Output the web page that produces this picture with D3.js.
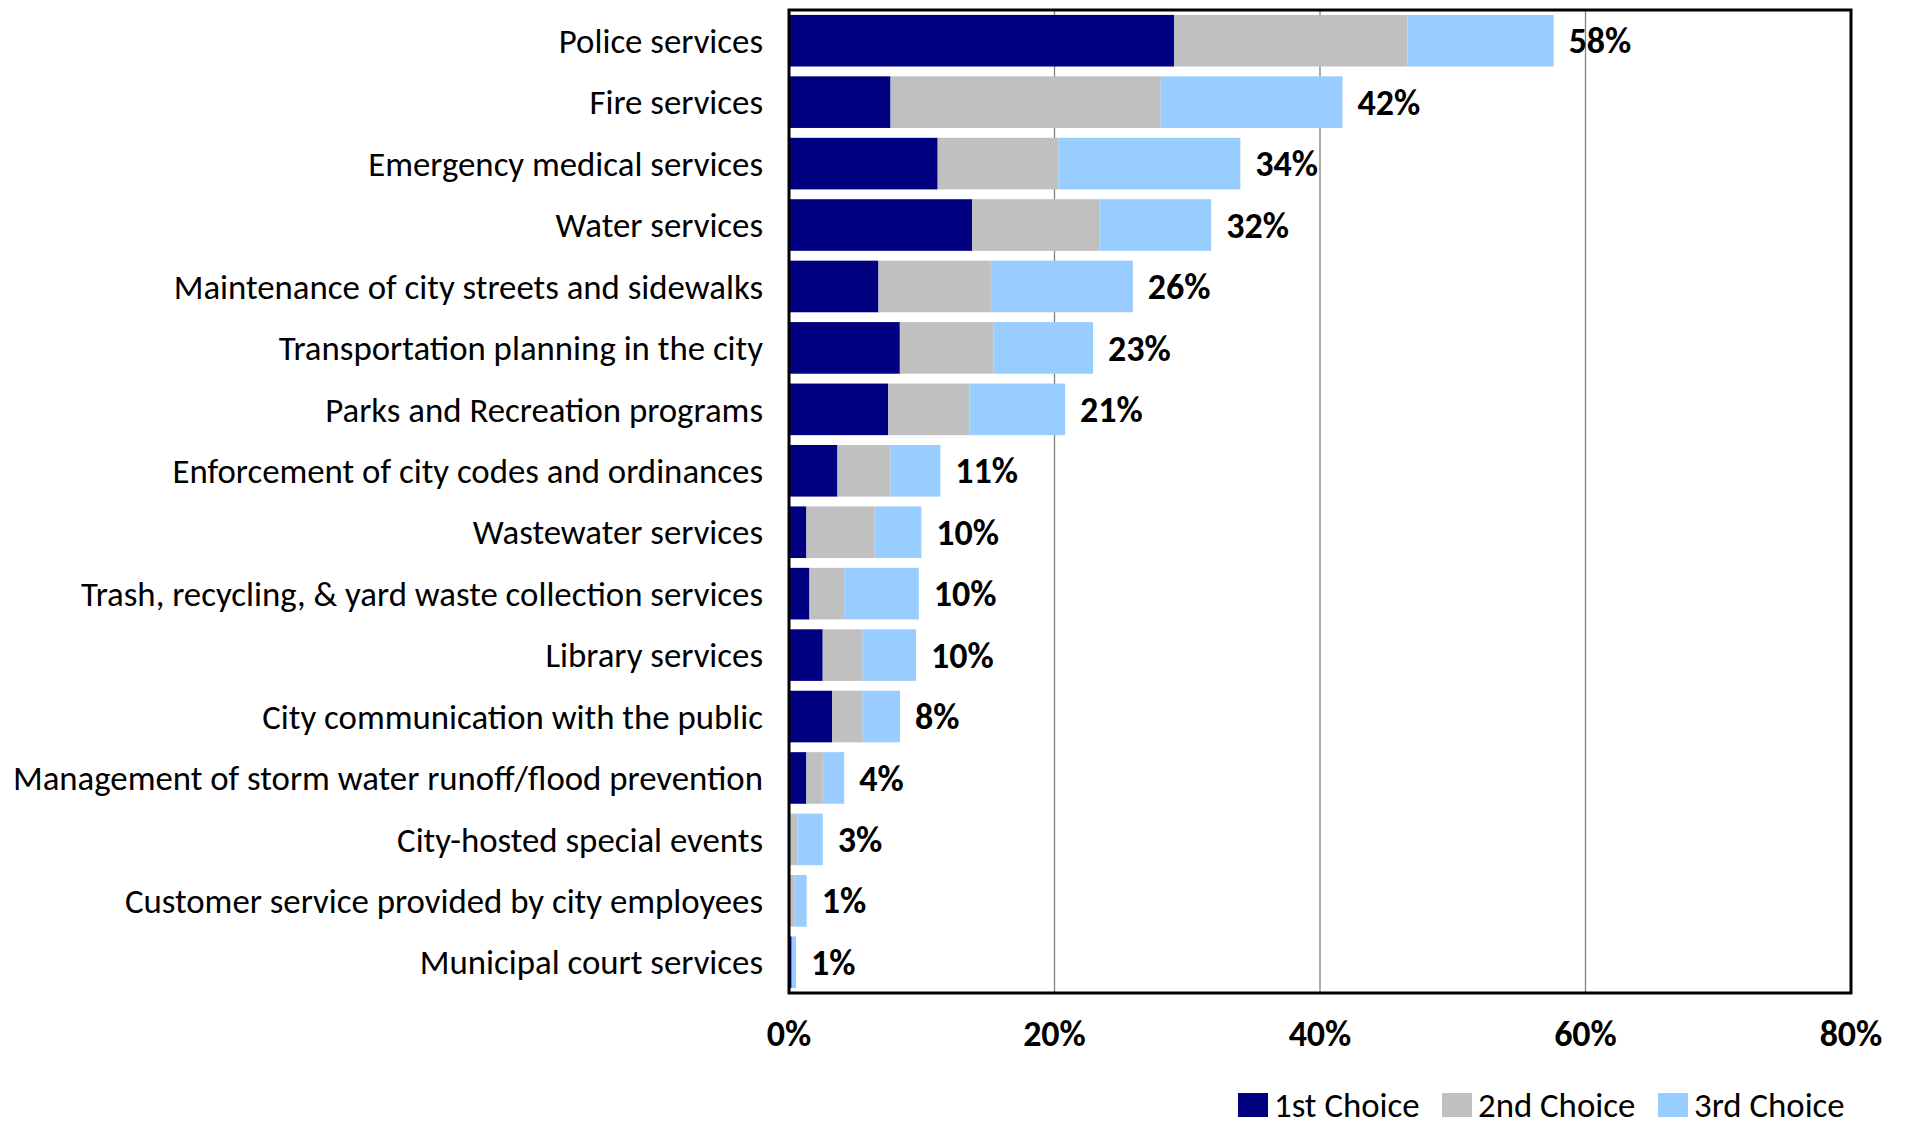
<!DOCTYPE html>
<html>
<head>
<meta charset="utf-8">
<script src="https://cdn.jsdelivr.net/npm/d3@7"></script>
<style>
  html, body { margin: 0; padding: 0; background: #fff; }
  svg { display: block; }
  text { font-family: Carlito, Calibri, "Open Sans", sans-serif; fill: #000; }
</style>
</head>
<body>
<svg id="chart" width="1908" height="1129"></svg>
<script>
// Most important city services (share of respondents choosing each as 1st, 2nd, 3rd choice)
const categories = [
  "Police services",
  "Fire services",
  "Emergency medical services",
  "Water services",
  "Maintenance of city streets and sidewalks",
  "Transportation planning in the city",
  "Parks and Recreation programs",
  "Enforcement of city codes and ordinances",
  "Wastewater services",
  "Trash, recycling, & yard waste collection services",
  "Library services",
  "City communication with the public",
  "Management of storm water runoff/flood prevention",
  "City-hosted special events",
  "Customer service provided by city employees",
  "Municipal court services"
];

const firstChoice  = [29.0, 7.65, 11.2, 13.8, 6.74, 8.35, 7.47, 3.65, 1.31, 1.54, 2.54, 3.25, 1.31, 0.0, 0.0, 0.20];
const secondChoice = [17.6, 20.35, 9.1, 9.6, 8.46, 7.05, 6.13, 4.0, 5.14, 2.62, 3.0, 2.29, 1.23, 0.63, 0.43, 0.0];
const thirdChoice  = [11.0, 13.7, 13.7, 8.4, 10.7, 7.5, 7.2, 3.75, 3.52, 5.61, 4.03, 2.82, 1.62, 1.91, 0.90, 0.33];

const seriesNames = ["1st Choice", "2nd Choice", "3rd Choice"];
const seriesColors = ["#000080", "#C0C0C0", "#99CCFF"];
const xTicks = [0, 20, 40, 60, 80];

const rows = categories.map((c, i) => ({
  category: c,
  "1st Choice": firstChoice[i],
  "2nd Choice": secondChoice[i],
  "3rd Choice": thirdChoice[i]
}));

const svg = d3.select("#chart");
const plot = { left: 789, right: 1851, top: 10, bottom: 993 };
const labelSize = 34.8;
const boldSize = 36;

const x = d3.scaleLinear().domain([0, 80]).range([plot.left, plot.right]);
const y = d3.scaleBand()
  .domain(categories)
  .range([plot.top, plot.bottom])
  .paddingInner(0.16)
  .paddingOuter(0.08);

const stacked = d3.stack().keys(seriesNames)(rows);

// vertical gridlines
svg.append("g")
  .selectAll("line")
  .data(xTicks.filter(t => t > 0 && t < 80))
  .join("line")
  .attr("x1", d => x(d)).attr("x2", d => x(d))
  .attr("y1", plot.top).attr("y2", plot.bottom)
  .attr("stroke", "#808080")
  .attr("stroke-width", 1.3);

// stacked bars
svg.append("g")
  .selectAll("g")
  .data(stacked)
  .join("g")
  .attr("fill", (d, i) => seriesColors[i])
  .selectAll("rect")
  .data(d => d)
  .join("rect")
  .attr("x", d => x(d[0]))
  .attr("y", d => y(d.data.category))
  .attr("width", d => Math.max(0, x(d[1]) - x(d[0])))
  .attr("height", y.bandwidth());

// total labels at bar ends
const totals = rows.map(r => ({ category: r.category, total: r["1st Choice"] + r["2nd Choice"] + r["3rd Choice"] }));
svg.append("g")
  .selectAll("text")
  .data(totals)
  .join("text")
  .attr("x", d => x(d.total) + 15)
  .attr("y", d => y(d.category) + y.bandwidth() / 2)
  .attr("dy", "0.35em")
  .attr("font-size", boldSize)
  .attr("font-weight", "bold")
  .text(d => d3.format(".0f")(d.total) + "%");

// plot frame
svg.append("rect")
  .attr("x", plot.left).attr("y", plot.top)
  .attr("width", plot.right - plot.left)
  .attr("height", plot.bottom - plot.top)
  .attr("fill", "none")
  .attr("stroke", "#000")
  .attr("stroke-width", 3);

// category axis labels
svg.append("g")
  .selectAll("text")
  .data(categories)
  .join("text")
  .attr("x", 763)
  .attr("y", d => y(d) + y.bandwidth() / 2)
  .attr("dy", "0.35em")
  .attr("text-anchor", "end")
  .attr("font-size", labelSize)
  .text(d => d);

// value axis tick labels
svg.append("g")
  .selectAll("text")
  .data(xTicks)
  .join("text")
  .attr("x", d => x(d))
  .attr("y", 1033)
  .attr("dy", "0.35em")
  .attr("text-anchor", "middle")
  .attr("font-size", boldSize)
  .attr("font-weight", "bold")
  .text(d => d + "%");

// legend
const legendItems = [
  { name: seriesNames[0], color: seriesColors[0], x: 1238 },
  { name: seriesNames[1], color: seriesColors[1], x: 1442 },
  { name: seriesNames[2], color: seriesColors[2], x: 1658 }
];
const legend = svg.append("g").selectAll("g").data(legendItems).join("g")
  .attr("transform", d => `translate(${d.x},1105)`);
legend.append("rect")
  .attr("x", 0).attr("y", -12)
  .attr("width", 30).attr("height", 24)
  .attr("fill", d => d.color);
legend.append("text")
  .attr("x", 36).attr("y", 0).attr("dy", "0.35em")
  .attr("font-size", labelSize)
  .text(d => d.name);
</script>
</body>
</html>
